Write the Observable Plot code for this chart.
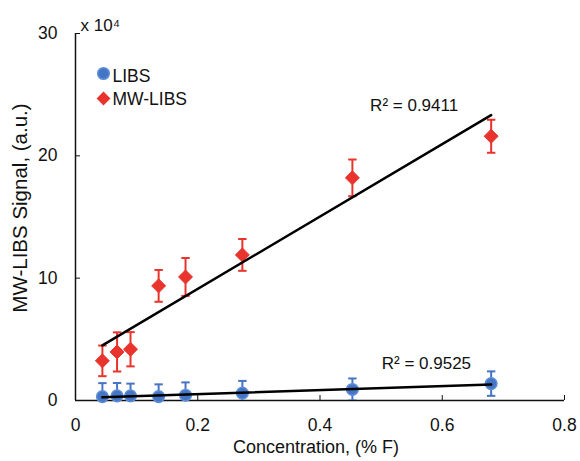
<!DOCTYPE html>
<html><head><meta charset="utf-8">
<script src="https://cdn.jsdelivr.net/npm/d3@7"></script>
<script src="https://cdn.jsdelivr.net/npm/@observablehq/plot@0.6"></script>
<style>body{margin:0;background:#fff;} #chart{width:580px;height:461px;}</style>
</head><body><div id="chart"></div>
<script>
const conc = [0.044, 0.068, 0.09, 0.136, 0.18, 0.273, 0.453, 0.68];
const mwlibs = [3.24, 3.97, 4.19, 9.37, 10.1, 11.9, 18.2, 21.6];
const mwlibsErr = [1.25, 1.6, 1.4, 1.3, 1.55, 1.3, 1.5, 1.35];
const libs = [0.32, 0.38, 0.38, 0.32, 0.43, 0.6, 0.9, 1.38];
const libsErr = [1.1, 1.05, 1.0, 1.0, 1.05, 1.0, 0.9, 1.0];
const xTicks = [0, 0.2, 0.4, 0.6, 0.8];
const yTicks = [0, 10, 20, 30];
const seriesNames = ["LIBS", "MW-LIBS"];
const r2Labels = [
  {x: 0.482, y: 24.1, text: "R² = 0.9411"},
  {x: 0.501, y: 3.02, text: "R² = 0.9525"}
];

const BLUE = "#4675c4", BLUE_EDGE = "#5d8fd8", RED = "#e8342c";
const red = conc.map((x, i) => ({x, y: mwlibs[i], e: mwlibsErr[i]}));
const blue = conc.map((x, i) => ({x, y: libs[i], e: libsErr[i]}));
const caps = arr => arr.flatMap(d => [{x: d.x, y: d.y + d.e}, {x: d.x, y: d.y - d.e}]);
const capSymbol = {draw(ctx, size) { const w = Math.sqrt(size / Math.PI); ctx.moveTo(-w, 0); ctx.lineTo(w, 0); }};

const FONT = "Liberation Sans, Arial, sans-serif";
const chart = Plot.plot({
  width: 580, height: 461,
  marginLeft: 75, marginRight: 16, marginTop: 33, marginBottom: 61,
  style: {fontFamily: FONT, fontSize: "17.5px", color: "#111", background: "#fff"},
  x: {domain: [0, 0.8]},
  y: {domain: [0, 30]},
  marks: [
    Plot.axisX({ticks: xTicks, tickSize: -5, tickPadding: 23, tickFormat: d => String(d), label: null, fontSize: 17.5}),
    Plot.axisY({ticks: yTicks, tickSize: -5, tickPadding: 23, tickFormat: d => String(d), label: null, fontSize: 17.5}),
    Plot.ruleY([0], {stroke: "#111", strokeWidth: 1.5}),
    Plot.ruleX([0], {stroke: "#111", strokeWidth: 1.5}),
    // error bars
    Plot.ruleX(red, {x: "x", y1: d => d.y - d.e, y2: d => d.y + d.e, stroke: RED, strokeWidth: 2}),
    Plot.dot(caps(red), {x: "x", y: "y", symbol: capSymbol, r: 4.2, fill: "none", stroke: RED, strokeWidth: 2}),
    Plot.ruleX(blue, {x: "x", y1: d => d.y - d.e, y2: d => d.y + d.e, stroke: BLUE, strokeWidth: 2, clip: true}),
    Plot.dot(caps(blue), {x: "x", y: "y", symbol: capSymbol, r: 4.2, fill: "none", stroke: BLUE, strokeWidth: 2, clip: true}),
    // points
    Plot.dot(red, {x: "x", y: "y", symbol: "diamond2", r: 6.3, fill: RED, stroke: RED, strokeWidth: 1}),
    Plot.dot(blue, {x: "x", y: "y", r: 5.8, fill: BLUE, stroke: BLUE_EDGE, strokeWidth: 1.5}),
    // trendlines
    Plot.linearRegressionY(red, {x: "x", y: "y", ci: 0, stroke: "#000", strokeWidth: 2.5}),
    Plot.linearRegressionY(blue, {x: "x", y: "y", ci: 0, stroke: "#000", strokeWidth: 2.5}),
    Plot.text(r2Labels, {x: "x", y: "y", text: "text", textAnchor: "start", lineAnchor: "middle", fill: "#111", fontSize: 17}),
    // scale note
    Plot.text(["x 10⁴"], {frameAnchor: "top-left", dx: 5, dy: -8, textAnchor: "start", lineAnchor: "middle", fill: "#111", fontSize: 17}),
    // axis titles
    Plot.text(["MW-LIBS Signal, (a.u.)"], {frameAnchor: "left", dx: -55, dy: -9, rotate: -90, textAnchor: "middle", lineAnchor: "middle", fill: "#111", fontSize: 20.5}),
    Plot.text(["Concentration, (% F)"], {frameAnchor: "bottom", dx: -4, dy: 47, lineAnchor: "middle", fill: "#111", fontSize: 18}),
    // legend
    Plot.dot([seriesNames[0]], {frameAnchor: "top-left", dx: 28, dy: 40, r: 5.8, fill: BLUE, stroke: BLUE_EDGE, strokeWidth: 1.5}),
    Plot.dot([seriesNames[1]], {frameAnchor: "top-left", dx: 28, dy: 65, symbol: "diamond2", r: 5.3, fill: RED, stroke: RED}),
    Plot.text([seriesNames[0]], {frameAnchor: "top-left", dx: 37, dy: 43, textAnchor: "start", lineAnchor: "middle", fill: "#111", fontSize: 17.5}),
    Plot.text([seriesNames[1]], {frameAnchor: "top-left", dx: 37, dy: 66, textAnchor: "start", lineAnchor: "middle", fill: "#111", fontSize: 17.5})
  ]
});
document.getElementById("chart").appendChild(chart);
</script></body></html>
